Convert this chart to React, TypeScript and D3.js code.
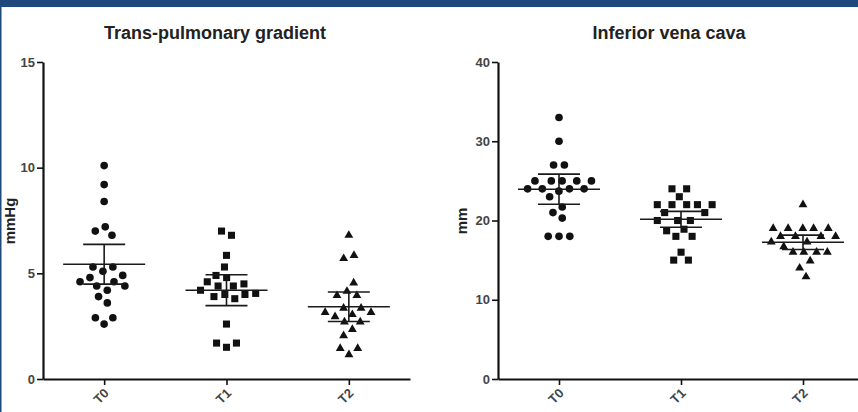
import React, { useEffect, useRef } from "react";
import * as d3 from "d3";

// Time points shared by both panels
const categories = ["T0", "T1", "T2"];

// Trans-pulmonary gradient (mmHg), one value per patient
const tpgT0 = [10.1, 9.2, 8.4, 7.2, 7.0, 6.8, 5.3, 5.3, 5.1, 4.9, 4.8, 4.6, 4.6, 4.4, 4.4, 4.2, 3.9, 3.6, 2.9, 2.9, 2.6];
const tpgT1 = [7.0, 6.8, 5.85, 5.3, 4.9, 4.8, 4.6, 4.5, 4.4, 4.4, 4.2, 4.05, 4.0, 4.0, 3.9, 3.8, 2.6, 1.7, 1.7, 1.5];
const tpgT2 = [6.8, 5.85, 5.7, 4.55, 4.15, 3.95, 3.95, 3.35, 3.35, 3.15, 3.15, 3.05, 2.95, 2.7, 2.7, 2.35, 2.05, 1.45, 1.45, 1.15];
const tpgMean = [5.43, 4.2, 3.42];
const tpgCI = [0.94, 0.73, 0.7];
const tpgTicks = [0, 5, 10, 15];

// Inferior vena cava diameter (mm)
const ivcT0 = [33, 30, 27, 27, 25, 25, 25, 25, 25, 24, 24, 24, 24, 23.7, 23, 21.7, 21, 20.3, 18, 18, 18];
const ivcT1 = [24, 24, 23, 22, 22, 22, 22, 22, 21, 21, 20, 20, 20, 18.9, 18.7, 18, 18, 16, 15, 15];
const ivcT2 = [22, 19, 19, 19, 19, 19, 18, 18, 18, 18, 17.3, 17.3, 16.7, 16, 16, 16, 16, 14.9, 14, 12.9];
const ivcMean = [23.95, 20.15, 17.25];
const ivcCI = [1.9, 1.0, 0.9];
const ivcTicks = [0, 10, 20, 30, 40];

const W = 858;
const H = 412;
const FONT = "'Liberation Sans', Arial, Helvetica, sans-serif";
const INK = "#111";
const BORDER = "#1f497d";

const symbols = [d3.symbolCircle, d3.symbolSquare, d3.symbolTriangle];
const symbolSizes = [46, 50, 34];

interface Panel {
  title: string;
  yLabel: string;
  groups: number[][];
  mean: number[];
  ci: number[];
  ticks: number[];
  yMax: number;
  axisX: number;
  rangeEnd: number;
  titleX: number;
  yLabelX: number;
}

const panels: Panel[] = [
  {
    title: "Trans-pulmonary gradient",
    yLabel: "mmHg",
    groups: [tpgT0, tpgT1, tpgT2],
    mean: tpgMean,
    ci: tpgCI,
    ticks: tpgTicks,
    yMax: 15,
    axisX: 43,
    rangeEnd: 410,
    titleX: 215,
    yLabelX: 14.5,
  },
  {
    title: "Inferior vena cava",
    yLabel: "mm",
    groups: [ivcT0, ivcT1, ivcT2],
    mean: ivcMean,
    ci: ivcCI,
    ticks: ivcTicks,
    yMax: 40,
    axisX: 498,
    rangeEnd: 864,
    titleX: 669,
    yLabelX: 467,
  },
];

// Spread each column horizontally so markers don't overlap (y stays fixed at the value)
function swarm(values: number[], cx: number, y: d3.ScaleLinear<number, number>) {
  const nodes = values.map((v, i) => ({
    v,
    x: cx + (i % 2 ? 1 : -1) * 0.01 * (i + 1),
    y: y(v),
    fy: y(v),
  })) as any[];
  const sim = d3
    .forceSimulation(nodes)
    .force("x", d3.forceX(cx).strength(0.04))
    .force("collide", d3.forceCollide(5.4).strength(1).iterations(4))
    .stop();
  for (let i = 0; i < 400; i++) sim.tick();
  return nodes as { v: number; x: number; y: number }[];
}

function drawPanel(svg: d3.Selection<SVGSVGElement, unknown, null, undefined>, p: Panel) {
  const top = 62;
  const bottom = 379;
  const x = d3.scalePoint<string>().domain(categories).range([p.axisX, p.rangeEnd]).padding(0.5);
  const y = d3.scaleLinear().domain([0, p.yMax]).range([bottom, top]);

  const g = svg.append("g");

  g.append("text")
    .attr("x", p.titleX)
    .attr("y", 39)
    .attr("text-anchor", "middle")
    .attr("font-family", FONT)
    .attr("font-weight", "bold")
    .attr("font-size", 18)
    .attr("fill", "#222")
    .text(p.title);

  g.append("text")
    .attr("transform", `translate(${p.yLabelX},221) rotate(-90)`)
    .attr("text-anchor", "middle")
    .attr("font-family", FONT)
    .attr("font-weight", "bold")
    .attr("font-size", 15)
    .attr("fill", "#222")
    .text(p.yLabel);

  // y axis
  const yAxis = d3.axisLeft(y).tickValues(p.ticks).tickSize(6).tickSizeOuter(0).tickPadding(2).tickFormat(d3.format("d"));
  const ya = g.append("g").attr("transform", `translate(${p.axisX},0)`).call(yAxis);
  ya.attr("font-family", FONT).attr("font-size", 13).attr("font-weight", "bold");
  ya.select(".domain").attr("stroke", INK).attr("stroke-width", 2.2);
  ya.selectAll(".tick line").attr("stroke", INK).attr("stroke-width", 1.6);
  ya.selectAll(".tick text").attr("fill", "#444");

  // x axis
  const xAxis = d3.axisBottom(x).tickSize(6).tickSizeOuter(0);
  const xa = g.append("g").attr("transform", `translate(0,${bottom})`).call(xAxis);
  xa.attr("font-family", FONT).attr("font-size", 13).attr("font-weight", "bold");
  xa.select(".domain").attr("stroke", INK).attr("stroke-width", 2.2);
  xa.selectAll(".tick line").attr("stroke", INK).attr("stroke-width", 1.6);
  xa.selectAll(".tick text")
    .attr("fill", "#444")
    .attr("y", 0)
    .attr("dy", 0)
    .attr("text-anchor", "end")
    .attr("transform", "translate(5,15) rotate(-45)");

  // points
  p.groups.forEach((vals, gi) => {
    const cx = x(categories[gi]) as number;
    const nodes = swarm(vals, cx, y);
    const path = d3.symbol().type(symbols[gi]).size(symbolSizes[gi])();
    g.append("g")
      .selectAll("path")
      .data(nodes)
      .join("path")
      .attr("d", path)
      .attr("transform", (d) => `translate(${d.x},${d.y})`)
      .attr("fill", INK);
  });

  // mean with confidence interval
  const stats = g.append("g").attr("stroke", "#1a1a1a").attr("stroke-width", 1.6).attr("fill", "none");
  categories.forEach((c, i) => {
    const cx = x(c) as number;
    const m = y(p.mean[i]);
    const hi = y(p.mean[i] + p.ci[i]);
    const lo = y(p.mean[i] - p.ci[i]);
    stats.append("line").attr("x1", cx - 41).attr("x2", cx + 41).attr("y1", m).attr("y2", m);
    stats.append("line").attr("x1", cx).attr("x2", cx).attr("y1", hi).attr("y2", lo);
    stats.append("line").attr("x1", cx - 21).attr("x2", cx + 21).attr("y1", hi).attr("y2", hi);
    stats.append("line").attr("x1", cx - 21).attr("x2", cx + 21).attr("y1", lo).attr("y2", lo);
  });
}

export default function App() {
  const ref = useRef<SVGSVGElement>(null);

  useEffect(() => {
    if (!ref.current) return;
    const svg = d3.select(ref.current);
    svg.selectAll("*").remove();
    svg.append("rect").attr("width", W).attr("height", H).attr("fill", "#fff");
    panels.forEach((p) => drawPanel(svg, p));
    svg.append("rect").attr("width", W).attr("height", 7).attr("fill", BORDER);
    svg.append("rect").attr("width", 1.5).attr("height", H).attr("fill", BORDER);
  }, []);

  return (
    <div style={{ position: "absolute", left: 0, top: 0 }}>
      <svg ref={ref} width={W} height={H} style={{ display: "block" }} />
    </div>
  );
}
